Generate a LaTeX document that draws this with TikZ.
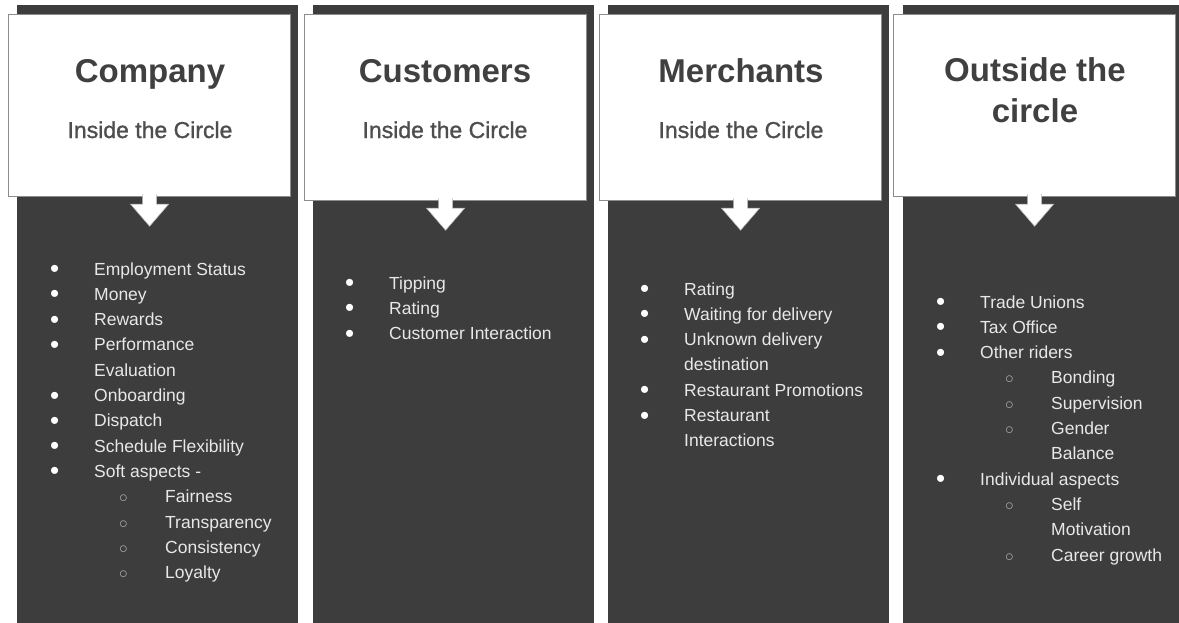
\documentclass[tikz,border=0pt]{standalone}
\usepackage{fontspec}
\setmainfont{Liberation Sans}
\usetikzlibrary{positioning}
\definecolor{panelgray}{RGB}{61,61,61}
\definecolor{edgegray}{RGB}{140,140,140}
\definecolor{titlegray}{RGB}{64,64,64}
\definecolor{subgray}{RGB}{78,78,78}
\definecolor{listgray}{RGB}{232,232,232}
\definecolor{circgray}{RGB}{175,175,175}
\newcommand{\bitem}[1]{\makebox[44pt][l]{\textcolor{white}{\raisebox{-2.5pt}{\fontsize{26}{26}\selectfont\textbullet}}}#1}
\newcommand{\bcont}[1]{\hspace*{44pt}#1}
\newcommand{\sitem}[1]{\hspace*{69pt}\makebox[46pt][l]{\textcolor{circgray}{\fontsize{16}{16}\selectfont$\circ$}}#1}
\newcommand{\scont}[1]{\hspace*{115pt}#1}
\tikzset{panel/.style={rectangle,fill=panelgray,draw=none,anchor=north west,inner sep=0pt,minimum width=281pt,minimum height=620pt},
         head box/.style={rectangle,fill=white,draw=edgegray,line width=1.2pt,anchor=north west,inner sep=0pt,minimum width=282pt},
         title text/.style={text=titlegray,font=\fontsize{33}{41}\selectfont\bfseries,anchor=base,inner sep=0pt,align=center},
         sub text/.style={text=subgray,font=\fontsize{23}{28}\selectfont\addfontfeature{FakeBold=1.2},anchor=base,inner sep=0pt},
         list text/.style={text=listgray,font=\fontsize{17.5}{25.3}\selectfont,anchor=base west,inner sep=0pt},
         down arrow/.style={fill=white,draw=edgegray!60,line width=0.6pt},
}

\begin{document}
\begin{tikzpicture}[x=1pt,y=1pt]

\useasboundingbox (0,0) rectangle (1179,-622);
% \draw[help lines,step=50] (0,0) grid (1179,-622);

\node[panel] (comppanel) at (17,-5) {};
\node[panel] (custpanel) at (313,-5) {};
\node[panel] (merchpanel) at (608,-5) {};
\node[panel] (outpanel) at (903,-5) {};

\node[head box,minimum height=182pt] (compbox) at (8,-14) {};
\node[head box,minimum height=186pt] (custbox) at (304,-14) {};
\node[head box,minimum height=186pt] (merchbox) at (599,-14) {};
\node[head box,minimum height=182pt] (outbox) at (893,-14) {};

\filldraw[down arrow] ([xshift=-7pt,yshift=3pt]compbox.south) -- ++(0,-10) -- ++(-12,0) -- ++(19,-22) -- ++(19,22) -- ++(-12,0) -- ++(0,10);
\filldraw[down arrow] ([xshift=-7pt,yshift=3pt]custbox.south) -- ++(0,-10) -- ++(-12,0) -- ++(19,-22) -- ++(19,22) -- ++(-12,0) -- ++(0,10);
\filldraw[down arrow] ([xshift=-7pt,yshift=3pt]merchbox.south) -- ++(0,-10) -- ++(-12,0) -- ++(19,-22) -- ++(19,22) -- ++(-12,0) -- ++(0,10);
\filldraw[down arrow] ([xshift=-7pt,yshift=3pt]outbox.south) -- ++(0,-10) -- ++(-12,0) -- ++(19,-22) -- ++(19,22) -- ++(-12,0) -- ++(0,10);

\node[title text] (comptitle) at (150,-82) {Company};
\node[sub text] (compsub) at ([yshift=-56pt]comptitle.base) {Inside the Circle};
\node[title text] (custtitle) at (445,-82) {Customers};
\node[sub text] (custsub) at ([yshift=-56pt]custtitle.base) {Inside the Circle};
\node[title text] (merchtitle) at (741,-82) {Merchants};
\node[sub text] (merchsub) at ([yshift=-56pt]merchtitle.base) {Inside the Circle};
\node[title text,anchor=north] (outtitle) at (1035,-57) {Outside the\\circle};

\node[list text] (complist) at (50,-275) {\parbox[t]{250pt}{%
\bitem{Employment Status}\\
\bitem{Money}\\
\bitem{Rewards}\\
\bitem{Performance}\\
\bcont{Evaluation}\\
\bitem{Onboarding}\\
\bitem{Dispatch}\\
\bitem{Schedule Flexibility}\\
\bitem{Soft aspects -}\\
\sitem{Fairness}\\
\sitem{Transparency}\\
\sitem{Consistency}\\
\sitem{Loyalty}}};

\node[list text] (custlist) at (345,-289) {\parbox[t]{250pt}{%
\bitem{Tipping}\\
\bitem{Rating}\\
\bitem{Customer Interaction}}};

\node[list text] (merchlist) at (640,-295) {\parbox[t]{250pt}{%
\bitem{Rating}\\
\bitem{Waiting for delivery}\\
\bitem{Unknown delivery}\\
\bcont{destination}\\
\bitem{Restaurant Promotions}\\
\bitem{Restaurant}\\
\bcont{Interactions}}};

\node[list text] (outlist) at (936,-308) {\parbox[t]{250pt}{%
\bitem{Trade Unions}\\
\bitem{Tax Office}\\
\bitem{Other riders}\\
\sitem{Bonding}\\
\sitem{Supervision}\\
\sitem{Gender}\\
\scont{Balance}\\
\bitem{Individual aspects}\\
\sitem{Self}\\
\scont{Motivation}\\
\sitem{Career growth}}};

\end{tikzpicture}
\end{document}
